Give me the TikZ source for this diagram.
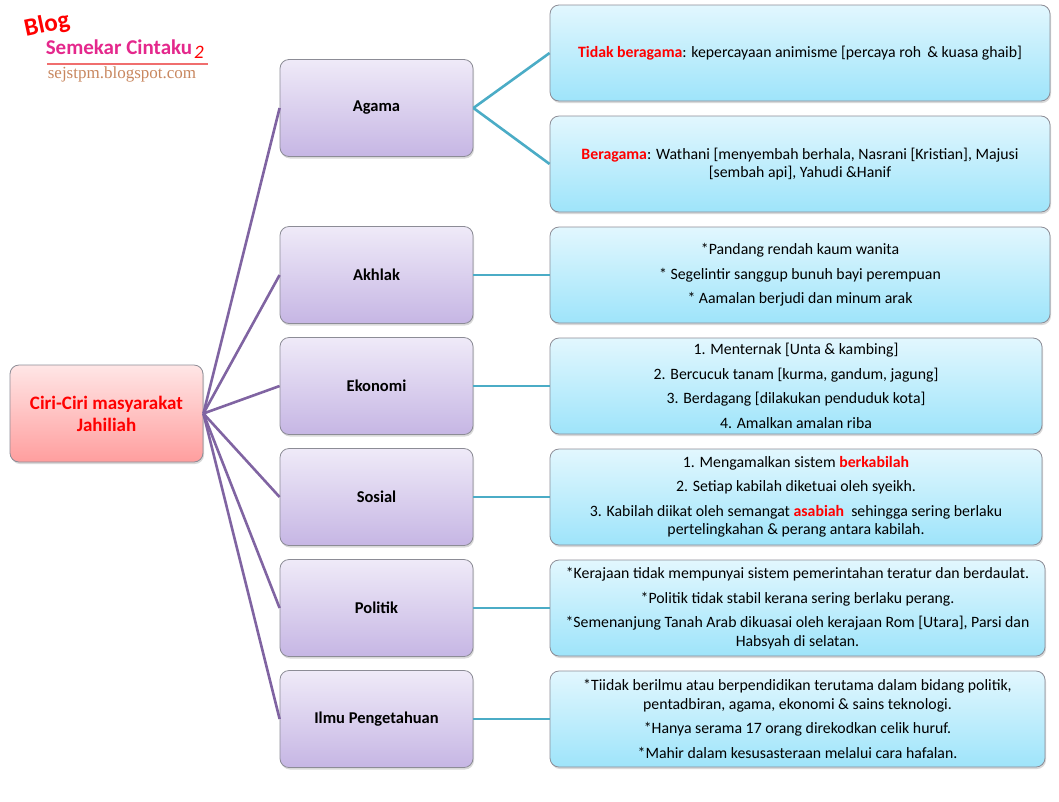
\documentclass[tikz,border=0pt]{standalone}
\usepackage{fontspec}
\setmainfont{Carlito}
\newfontfamily\logoserif{Liberation Serif}
\usetikzlibrary{shadows}

\definecolor{pinkT}{RGB}{255,230,230}
\definecolor{pinkB}{RGB}{255,158,158}
\definecolor{lilacT}{RGB}{239,234,248}
\definecolor{lilacB}{RGB}{198,182,228}
\definecolor{cyanT}{RGB}{226,247,254}
\definecolor{cyanB}{RGB}{158,228,250}
\definecolor{edgegray}{RGB}{140,140,150}
\definecolor{branchc}{RGB}{128,100,162}
\definecolor{twigc}{RGB}{75,172,198}
\definecolor{logopink}{RGB}{228,40,140}
\definecolor{logotan}{RGB}{200,135,95}
\definecolor{logoline}{RGB}{240,110,110}

\tikzset{
  box/.style={draw=edgegray, line width=0.8pt, rounded corners=9pt, align=center, inner sep=2pt,
    drop shadow={opacity=0.3, shadow xshift=1pt, shadow yshift=-2pt}},
  rootbox/.style={box, top color=pinkT, bottom color=pinkB, minimum width=193pt, minimum height=97pt,
    font=\fontsize{19}{22}\selectfont\bfseries, text=red},
  topic/.style={box, top color=lilacT, bottom color=lilacB, minimum width=193pt, minimum height=97pt,
    font=\fontsize{16.5}{19}\selectfont\bfseries},
  info/.style={box, top color=cyanT, bottom color=cyanB, minimum height=96pt,
    font=\fontsize{15.8}{18.5}\selectfont},
  branch/.style={draw=branchc, line width=2.6pt},
  twig/.style={draw=twigc, line width=2.6pt}
}
\newcommand{\hl}[1]{\textcolor{red}{\bfseries #1}}

\begin{document}
\begin{tikzpicture}[x=1pt, y=-1pt]
  \useasboundingbox (0,0) rectangle (1059,801);
  % logo
  \node[rotate=12, text=red, inner sep=0pt, font=\fontsize{25}{25}\selectfont\bfseries] (blog) at (47,25) {Blog};
  \node[text=logopink, inner sep=0pt, font=\fontsize{21}{21}\selectfont\bfseries] (semekar) at (119,47) {Semekar Cintaku};
  \node[text=red, inner sep=0pt, font=\fontsize{19}{19}\selectfont\itshape] (dua) at (199,52) {2};
  \draw[logoline, line width=1.2pt] (47,64) -- (208,64);
  \node[text=logotan, inner sep=0pt, font=\logoserif\fontsize{17}{17}\selectfont] (blogurl) at (122,74) {sejstpm.blogspot.com};

  % root and topics
  \node[rootbox] (ciri) at (106.5,413.5) {Ciri-Ciri masyarakat\\Jahiliah};
  \node[topic] (agama) at (376.5,108) {Agama};
  \node[topic] (akhlak) at (376.5,275) {Akhlak};
  \node[topic] (ekonomi) at (376.5,386) {Ekonomi};
  \node[topic] (sosial) at (376.5,497) {Sosial};
  \node[topic] (politik) at (376.5,608) {Politik};
  \node[topic] (ilmu) at (376.5,719) {Ilmu Pengetahuan};

  % details
  \node[info, minimum width=500pt] (agama-a) at (800,53)
    {\hl{Tidak beragama}: kepercayaan animisme {[}percaya roh \,\& kuasa ghaib{]}};
  \node[info, minimum width=500pt] (agama-b) at (800,164)
    {\hl{Beragama}: Wathani {[}menyembah berhala, Nasrani {[}Kristian{]}, Majusi\\ {[}sembah api{]}, Yahudi \&Hanif};
  \node[info, minimum width=500pt] (akhlak-d) at (800,275)
    {*Pandang rendah kaum wanita\\[6pt] * Segelintir sanggup bunuh bayi perempuan\\[6pt] * Aamalan berjudi dan minum arak};
  \node[info, minimum width=492pt] (ekonomi-d) at (796,386)
    {1. Menternak {[}Unta \& kambing{]}\\[6pt] 2. Bercucuk tanam {[}kurma, gandum, jagung{]}\\[6pt]
     3. Berdagang {[}dilakukan penduduk kota{]}\\[6pt] 4. Amalkan amalan riba};
  \node[info, minimum width=492pt] (sosial-d) at (796,497)
    {1. Mengamalkan sistem \hl{berkabilah}\\[6pt] 2. Setiap kabilah diketuai oleh syeikh.\\[6pt]
     3. Kabilah diikat oleh semangat \hl{asabiah} \ sehingga sering berlaku\\ pertelingkahan \& perang antara kabilah.};
  \node[info, minimum width=495pt] (politik-d) at (797.5,608)
    {*Kerajaan tidak mempunyai sistem pemerintahan teratur dan berdaulat.\\[6pt]
     *Politik tidak stabil kerana sering berlaku perang.\\[6pt]
     *Semenanjung Tanah Arab dikuasai oleh kerajaan Rom {[}Utara{]}, Parsi dan\\ Habsyah di selatan.};
  \node[info, minimum width=495pt] (ilmu-d) at (797.5,719)
    {*Tiidak berilmu atau berpendidikan terutama dalam bidang politik,\\ pentadbiran, agama, ekonomi \& sains teknologi.\\[6pt]
     *Hanya serama 17 orang direkodkan celik huruf.\\[6pt]
     *Mahir dalam kesusasteraan melalui cara hafalan.};

  % connectors
  \foreach \ta in {agama,akhlak,ekonomi,sosial,politik,ilmu}
    \draw[branch] (ciri.east) -- (\ta.west);
  \foreach \ta/\tb in {agama/agama-a,agama/agama-b,akhlak/akhlak-d,ekonomi/ekonomi-d,sosial/sosial-d,politik/politik-d,ilmu/ilmu-d}
    \draw[twig] (\ta.east) -- (\tb.west);
\end{tikzpicture}
\end{document}
